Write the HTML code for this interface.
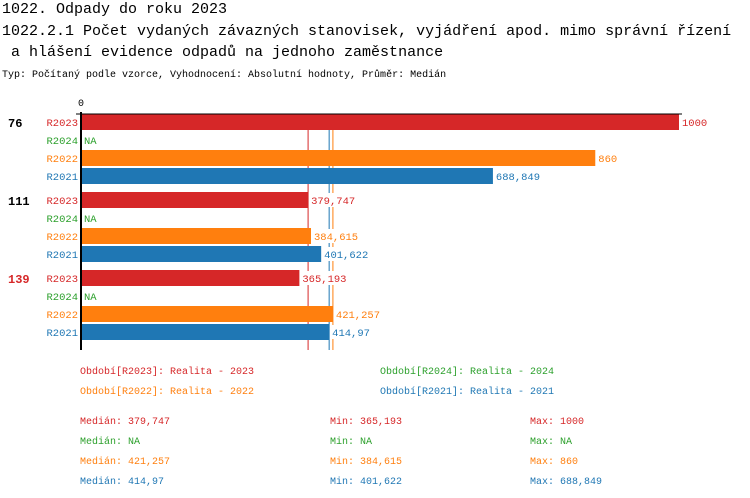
<!DOCTYPE html>
<html><head><meta charset="utf-8"><style>
body{margin:0;background:#fff;}
svg{display:block;font-family:"Liberation Mono","DejaVu Sans Mono",monospace;}
</style></head><body>
<svg id="c" width="750" height="498">
<text x="2" y="13" font-size="15">1022. Odpady do roku 2023</text>
<text x="2" y="35" font-size="15">1022.2.1 Počet vydaných závazných stanovisek, vyjádření apod. mimo správní řízení</text>
<text x="11" y="56" font-size="15">a hlášení evidence odpadů na jednoho zaměstnance</text>
<text x="2" y="77" font-size="10">Typ: Počítaný podle vzorce, Vyhodnocení: Absolutní hodnoty, Průměr: Medián</text>
<g id="plot"></g>
</svg>
<script>
const groups=["76","111","139"];
const groupColors=["#000","#000","#d62728"];
const seriesNames=["R2023","R2024","R2022","R2021"];
const seriesColors=["#d62728","#2ca02c","#ff7f0e","#1f77b4"];
const values=[[1000,null,860,688.849],[379.747,null,384.615,401.622],[365.193,null,421.257,414.97]];
const medians=[379.747,null,421.257,414.97];
const mins=[365.193,null,384.615,401.622];
const maxs=[1000,null,860,688.849];
const legendLabels=["Období[R2023]: Realita - 2023","Období[R2024]: Realita - 2024","Období[R2022]: Realita - 2022","Období[R2021]: Realita - 2021"];

const NS="http://www.w3.org/2000/svg";
const g=document.getElementById('plot');
const x0=81,xScale=598/1000;
const xs=v=>x0+v*xScale;
function fmt(v){return v===null?"NA":String(+v.toFixed(3)).replace('.',',');}
function mk(tag,attrs,txt){const e=document.createElementNS(NS,tag);for(const k in attrs)e.setAttribute(k,attrs[k]);if(txt!==undefined)e.textContent=txt;g.appendChild(e);return e;}

medians.forEach((m,i)=>{
  if(m===null)return;
  const l=mk('line',{x1:xs(m),x2:xs(m),y1:114,y2:350,stroke:seriesColors[i],'stroke-width':1});
  
  
});

groups.forEach((gn,gi)=>{
  const gy=114+gi*78;
  const t=mk('text',{x:8,y:gy+13,'font-size':12,'font-weight':'bold',fill:groupColors[gi]},gn);
  
  
  seriesNames.forEach((sn,si)=>{
    const y=gy+si*18;
    const v=values[gi][si];
    const l=mk('text',{x:78,y:y+12,'font-size':10.5,'text-anchor':'end',fill:seriesColors[si]},sn);
    
    
    if(v!==null){
      const r=mk('rect',{x:x0,y:y,width:xs(v)-x0,height:16,fill:seriesColors[si]});
      
      
      const bg=mk('rect',{x:xs(v)+1,y:y+1,width:fmt(v).length*6.3+3,height:14,fill:'#fff'});
      
      
    }
    const vl=mk('text',{x:(v===null?x0:xs(v))+3,y:y+12,'font-size':10.5,fill:seriesColors[si]},fmt(v));
    
    
  });
});
const ax=mk('line',{x1:x0,x2:x0,y1:112,y2:350,stroke:'#000','stroke-width':2});


const tx=mk('line',{x1:76,x2:682,y1:114,y2:114,stroke:'#000','stroke-width':1});


const zl=mk('text',{x:x0,y:106,'font-size':10,'text-anchor':'middle'},"0");



legendLabels.forEach((lab,i)=>{
  const e=mk('text',{x:i%2?380:80,y:374+Math.floor(i/2)*20,'font-size':10,fill:seriesColors[i]},lab);
  
  
});
seriesNames.forEach((sn,i)=>{
  const y=424+i*20;
  const a=mk('text',{x:80,y:y,'font-size':10,fill:seriesColors[i]},"Medián: "+fmt(medians[i]));
  
  
  const b=mk('text',{x:330,y:y,'font-size':10,fill:seriesColors[i]},"Min: "+fmt(mins[i]));
  
  
  const c=mk('text',{x:530,y:y,'font-size':10,fill:seriesColors[i]},"Max: "+fmt(maxs[i]));
  
  
});
</script>
</body></html>
